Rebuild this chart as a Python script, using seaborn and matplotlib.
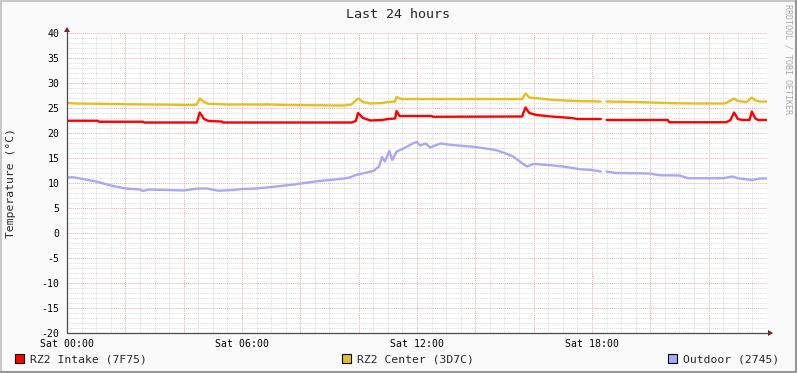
import numpy as np
import pandas as pd
import matplotlib
matplotlib.use("Agg")
import matplotlib.pyplot as plt
import seaborn as sns
from matplotlib.patches import Rectangle, Polygon
from matplotlib.lines import Line2D
from matplotlib.ticker import MultipleLocator, FuncFormatter

# ---------------- data (hours since Sat 00:00, temperature in °C) ----------------
series_names = ["RZ2 Intake (7F75)", "RZ2 Center (3D7C)", "Outdoor (2745)"]
series_colors = ["#FF0000", "#E8BE1E", "#A8A8F4"]

intake_hours = [0, 1.05, 1.1, 2.6, 2.65, 4.45, 4.55, 4.7, 4.85, 5.3, 5.35, 9.75, 9.9,
                9.98, 10.15, 10.4, 10.8, 11.0, 11.25, 11.3, 11.4, 12.5, 12.55, 15.6,
                15.72, 15.85, 16.1, 16.6, 17.3, 17.5, 18.3, 18.4, 18.5, 20.6, 20.65,
                22.6, 22.75, 22.87, 23.0, 23.15, 23.4, 23.48, 23.6, 23.7, 24.0]
intake_vals = [22.45, 22.45, 22.25, 22.25, 22.1, 22.1, 24.1, 22.8, 22.4, 22.3, 22.1, 22.1, 22.4,
               24.0, 23.0, 22.5, 22.6, 22.8, 22.9, 24.4, 23.4, 23.4, 23.25, 23.3,
               25.1, 24.0, 23.6, 23.3, 23.0, 22.8, 22.8, np.nan, 22.6, 22.6, 22.15,
               22.15, 22.6, 24.1, 22.8, 22.6, 22.6, 24.3, 22.9, 22.6, 22.6]

center_hours = [0, 0.3, 1.0, 2.0, 3.0, 4.3, 4.45, 4.55, 4.7, 4.85, 5.5, 7.0, 7.5, 8.5, 9.5,
                9.75, 9.98, 10.15, 10.4, 10.8, 11.0, 11.25, 11.3, 11.45, 12.5, 15.0, 15.6,
                15.72, 15.85, 16.2, 16.7, 17.5, 18.3, 18.4, 18.5, 19.5, 20.5, 21.5, 22.5,
                22.6, 22.87, 23.0, 23.3, 23.48, 23.6, 23.75, 24.0]
center_vals = [26.0, 25.9, 25.85, 25.75, 25.7, 25.6, 25.7, 26.9, 26.2, 25.85, 25.7, 25.7, 25.6, 25.55, 25.5,
               25.7, 26.9, 26.2, 25.9, 26.0, 26.2, 26.3, 27.2, 26.8, 26.8, 26.8, 26.8,
               27.9, 27.1, 26.9, 26.6, 26.4, 26.3, np.nan, 26.3, 26.2, 26.0, 25.9, 25.9,
               26.0, 26.9, 26.4, 26.2, 27.1, 26.5, 26.3, 26.3]

outdoor_hours = [0, 0.2, 0.45, 1.0, 1.5, 2.0, 2.5, 2.6, 2.8, 3.5, 4.0, 4.5, 4.8, 5.2, 5.7, 6.0,
                 6.5, 7.0, 7.8, 8.5, 9.0, 9.5, 9.7, 9.9, 10.2, 10.5, 10.7, 10.8, 10.9, 11.05,
                 11.15, 11.3, 11.5, 11.7, 11.85, 12.0, 12.1, 12.3, 12.45, 12.8, 13.2, 14.0,
                 14.7, 15.0, 15.3, 15.5, 15.77, 16.0, 16.5, 17.0, 17.6, 18.0, 18.3, 18.4,
                 18.5, 18.8, 20.0, 20.3, 21.0, 21.3, 22.5, 22.8, 23.0, 23.5, 23.75, 24.0]
outdoor_vals = [11.1, 11.15, 10.9, 10.3, 9.5, 8.9, 8.7, 8.4, 8.7, 8.6, 8.5, 8.9, 8.9, 8.45, 8.6, 8.8,
                8.9, 9.2, 9.7, 10.3, 10.6, 10.9, 11.1, 11.6, 12.0, 12.4, 13.3, 15.2, 14.3, 16.4,
                14.6, 16.3, 16.8, 17.4, 17.9, 18.2, 17.5, 17.9, 17.1, 17.9, 17.6, 17.2,
                16.6, 16.0, 15.3, 14.4, 13.3, 13.8, 13.6, 13.3, 12.75, 12.6, 12.3, np.nan,
                12.3, 12.0, 11.9, 11.55, 11.5, 10.95, 10.95, 11.3, 10.95, 10.6, 10.9, 10.9]

y_ticks = list(range(-20, 45, 5))
x_label_hours = [0, 6, 12, 18]

# ---------------- build long-form table (split at gaps) ----------------
frames = []
for name, hrs, vals in zip(series_names,
                           [intake_hours, center_hours, outdoor_hours],
                           [intake_vals, center_vals, outdoor_vals]):
    d = pd.DataFrame({"hour": hrs, "temp": vals})
    d["seg"] = [f"{name}-{k}" for k in d["temp"].isna().cumsum()]
    d["series"] = name
    frames.append(d.dropna())
df = pd.concat(frames, ignore_index=True)

# ---------------- figure ----------------
sns.set_style("white")
plt.rcParams["font.family"] = ["DejaVu Sans Mono", "DejaVu Sans"]

W, H = 797, 373
fig = plt.figure(figsize=(W / 100, H / 100), dpi=100, facecolor="#FAFAFA")

def fx(x):
    return x / W

def fy(y):
    return 1 - y / H

L, R, T, B = 67, 767, 33, 333
ax = fig.add_axes([fx(L), fy(B), (R - L) / W, (B - T) / H])
ax.set_facecolor("white")

sns.lineplot(data=df, x="hour", y="temp", hue="series", units="seg", estimator=None,
             hue_order=series_names, palette=dict(zip(series_names, series_colors)),
             linewidth=1.7, legend=False, sort=False, ax=ax)

ax.set_xlim(0, 24)
ax.set_ylim(-20, 40)
ax.set_xlabel("")
ax.set_ylabel("")

ax.xaxis.set_major_locator(MultipleLocator(2))
ax.xaxis.set_minor_locator(MultipleLocator(0.5))
ax.yaxis.set_major_locator(MultipleLocator(5))
ax.yaxis.set_minor_locator(MultipleLocator(1))
ax.set_yticks(y_ticks)
ax.xaxis.set_major_formatter(FuncFormatter(
    lambda v, p: f"Sat {int(round(v)):02d}:00" if int(round(v)) in x_label_hours else ""))
ax.yaxis.set_major_formatter(FuncFormatter(lambda v, p: f"{int(round(v))}"))

ax.set_axisbelow(True)
ax.grid(which="minor", color="#DCDCDC", linestyle=(0, (1, 1)), linewidth=0.7)
ax.grid(which="major", color="#EAADAD", linestyle=(0, (1, 1)), linewidth=0.7)

ax.tick_params(which="major", length=2.2, width=0.8, color="#C08A8A", labelsize=7.1,
               pad=2, labelcolor="black")
ax.tick_params(which="minor", length=1.5, width=0.7, color="#BBBBBB")
ax.tick_params(axis="y", which="major", pad=3)
for s in ax.spines.values():
    s.set_visible(False)

# axis lines with arrows
axis_col = "#4A4A4A"
arrow_col = "#7F1F1F"
fig.add_artist(Line2D([fx(L), fx(R + 4)], [fy(B), fy(B)], color=axis_col, lw=0.9))
fig.add_artist(Line2D([fx(L), fx(L)], [fy(B), fy(T - 4)], color=axis_col, lw=0.9))
fig.add_artist(Polygon([(fx(R + 1), fy(B - 3)), (fx(R + 6), fy(B)), (fx(R + 1), fy(B + 3))],
                       closed=True, transform=fig.transFigure, color=arrow_col, lw=0))
fig.add_artist(Polygon([(fx(L - 3), fy(T - 1)), (fx(L), fy(T - 6)), (fx(L + 3), fy(T - 1))],
                       closed=True, transform=fig.transFigure, color=arrow_col, lw=0))

# title, y label, watermark
fig.text(fx(398), fy(14), "Last 24 hours", ha="center", va="center", fontsize=9.6)
fig.text(fx(11), fy(183), "Temperature (°C)", ha="center", va="center",
         rotation=90, fontsize=8.2)
fig.text(fx(788), fy(4), "RRDTOOL / TOBI OETIKER", ha="center", va="top",
         rotation=270, fontsize=6.0, color="#A8A8A8")

# legend
leg_sq = [15, 342, 668]
leg_tx = [30, 357, 683]
for name, col, sx, tx in zip(series_names, series_colors, leg_sq, leg_tx):
    fig.add_artist(Rectangle((fx(sx), fy(363)), 9 / W, 9 / H, transform=fig.transFigure,
                             facecolor=col, edgecolor="black", lw=0.8))
    fig.text(fx(tx), fy(359), name, ha="left", va="center", fontsize=8.2)

# frame shading
fig.add_artist(Line2D([0, 1], [fy(0.5), fy(0.5)], color="#C8C8C8", lw=1.5))
fig.add_artist(Line2D([fx(0.5), fx(0.5)], [0, 1], color="#C8C8C8", lw=1.5))
fig.add_artist(Line2D([0, 1], [fy(H - 1), fy(H - 1)], color="#969696", lw=1.5))
fig.add_artist(Line2D([fx(W - 1), fx(W - 1)], [0, 1], color="#969696", lw=1.5))

fig.savefig("out.png", dpi=100, facecolor=fig.get_facecolor())
